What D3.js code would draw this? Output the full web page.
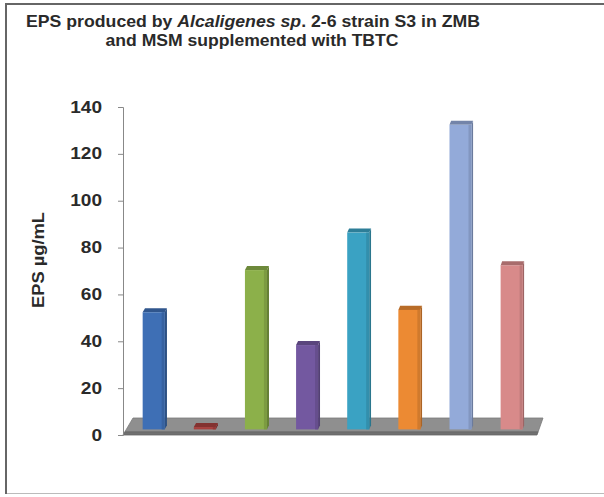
<!DOCTYPE html>
<html>
<head>
<meta charset="utf-8">
<script src="https://cdn.jsdelivr.net/npm/d3@7/dist/d3.min.js"></script>
<style>
  html, body { margin: 0; padding: 0; background: #fff; }
  svg { display: block; font-family: "Liberation Sans", Arial, sans-serif; }
</style>
</head>
<body>
<svg id="chart" width="604" height="497"></svg>
<script>
// EPS yield per culture condition (µg/mL)
const categories = ["C1", "C2", "C3", "C4", "C5", "C6", "C7", "C8"];
const values = [50, 1, 68, 36, 84, 51, 130, 70];
const colors = ["#3e6fb5", "#a8403e", "#8cb04a", "#7358a0", "#3aa2c3", "#ec8a33", "#93aad9", "#d88a8a"];
const yTicks = [0, 20, 40, 60, 80, 100, 120, 140];
const titleLines = [
  [{ t: "EPS produced by " }, { t: "Alcaligenes sp", i: true }, { t: ". 2-6 strain  S3 in ZMB" }],
  [{ t: "and MSM supplemented with TBTC" }]
];
const yLabel = "EPS µg/mL";

const svg = d3.select("#chart");

// outer frame
svg.append("rect").attr("x", 5.5).attr("y", 4.5).attr("width", 610).attr("height", 489)
  .attr("fill", "#fff").attr("stroke", "#bbb").attr("stroke-width", 1);
svg.append("line").attr("x1", 6).attr("x2", 6).attr("y1", 4).attr("y2", 494)
  .attr("stroke", "#666").attr("stroke-width", 2);
svg.append("line").attr("x1", 5).attr("x2", 604).attr("y1", 4).attr("y2", 4)
  .attr("stroke", "#666").attr("stroke-width", 2);

// title, two lines, each fitted to its width
const titleGeom = [{ cx: 253, y: 27, w: 454 }, { cx: 252, y: 46, w: 293 }];
titleLines.forEach((line, li) => {
  const g = titleGeom[li];
  const txt = svg.append("text").attr("text-anchor", "middle")
    .attr("x", g.cx).attr("y", g.y)
    .attr("font-size", 16.5).attr("font-weight", "bold").attr("fill", "#2a2a2a")
    .attr("textLength", g.w).attr("lengthAdjust", "spacingAndGlyphs");
  line.forEach(seg => {
    txt.append("tspan").attr("font-style", seg.i ? "italic" : null).text(seg.t);
  });
});

// 3D geometry: front plane and back plane of the floor
const y = d3.scaleLinear().domain([0, 140]).range([435, 107]);
const frontX = d3.scaleLinear().domain([0, 1]).range([123, 537]);
const backX = d3.scaleLinear().domain([0, 1]).range([133, 543]);
const depthY = 17;
const band = d3.scaleBand().domain(categories).range([0, 1]).paddingInner(0.57).paddingOuter(0.32);

function proj(f, v, t) {
  return [frontX(f) + (backX(f) - frontX(f)) * t, y(v) - depthY * t];
}

// floor
const floorTop = [proj(0, 0, 1), proj(1, 0, 1), proj(1, 0, 0.18), proj(0, 0, 0.18)];
const floorFront = [proj(0, 0, 0.18), proj(1, 0, 0.18), proj(1, 0, 0), proj(0, 0, 0)];
const poly = pts => "M" + pts.map(p => p.join(",")).join("L") + "Z";
svg.append("path").attr("d", poly(floorTop)).attr("fill", "#8f8f8f").attr("stroke", "#7a7a7a").attr("stroke-width", 0.8);
svg.append("path").attr("d", poly(floorFront)).attr("fill", "#707070").attr("stroke", "#666").attr("stroke-width", 0.8);

// value axis
const axis = svg.append("g").attr("transform", "translate(123,0)")
  .call(d3.axisLeft(y).tickValues(yTicks).tickSize(5).tickPadding(16));
axis.select(".domain").attr("stroke", "#888");
axis.selectAll(".tick line").attr("stroke", "#888");
axis.selectAll(".tick text").attr("font-size", 16).attr("font-weight", "bold")
  .attr("fill", "#2a2a2a").attr("font-family", "Liberation Sans, Arial, sans-serif")
  .attr("textLength", d => String(d).length * 10.6).attr("lengthAdjust", "spacingAndGlyphs");

svg.append("text").attr("transform", "translate(44,260) rotate(-90)")
  .attr("text-anchor", "middle").attr("font-size", 16).attr("font-weight", "bold")
  .attr("fill", "#2a2a2a").attr("textLength", 96).attr("lengthAdjust", "spacingAndGlyphs")
  .text(yLabel);

// columns
const t0 = 0.33, t1 = 0.57;
const bars = svg.append("g");
categories.forEach((c, i) => {
  const f0 = band(c), f1 = band(c) + band.bandwidth(), v = values[i];
  const col = d3.color(colors[i]);
  const g = bars.append("g");
  // right side face
  g.append("path").attr("d", poly([proj(f1, 0, t0), proj(f1, v, t0), proj(f1, v, t1), proj(f1, 0, t1)]))
    .attr("fill", col.darker(0.9));
  // top face
  g.append("path").attr("d", poly([proj(f0, v, t0), proj(f1, v, t0), proj(f1, v, t1), proj(f0, v, t1)]))
    .attr("fill", col.darker(0.7));
  // front face
  const p0 = proj(f0, v, t0), p1 = proj(f1, 0, t0);
  g.append("rect").attr("x", p0[0]).attr("y", p0[1]).attr("width", p1[0] - p0[0]).attr("height", p1[1] - p0[1])
    .attr("fill", colors[i]);
  g.append("rect").attr("x", p1[0] - 3).attr("y", p0[1]).attr("width", 3).attr("height", p1[1] - p0[1])
    .attr("fill", col.darker(0.35));
});
</script>
</body>
</html>
